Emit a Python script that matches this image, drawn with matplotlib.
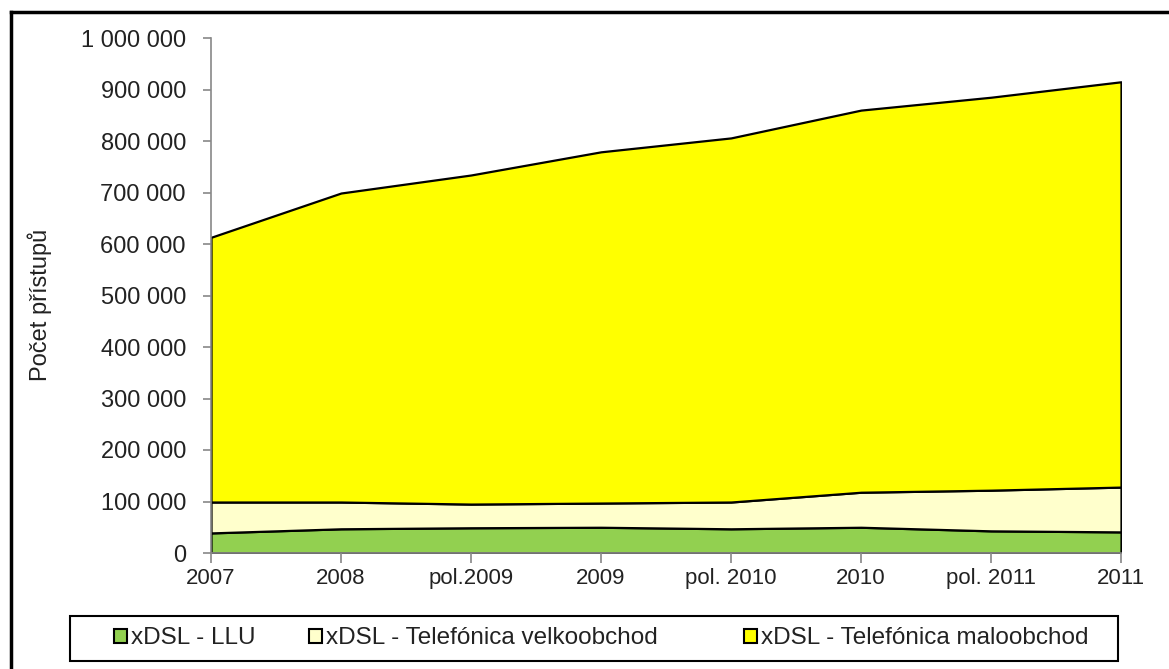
import matplotlib
matplotlib.use("Agg")
import matplotlib.pyplot as plt
from matplotlib.patches import Patch, Rectangle
from matplotlib.ticker import FuncFormatter, MultipleLocator
from matplotlib.lines import Line2D

plt.rcParams['font.family'] = ['Liberation Sans', 'DejaVu Sans']

periods = ["2007", "2008", "pol.2009", "2009", "pol. 2010", "2010", "pol. 2011", "2011"]
llu = [39000, 47000, 49000, 50000, 47000, 50000, 43000, 41000]
velkoobchod = [60000, 52000, 46000, 47000, 52000, 68000, 79000, 87000]
maloobchod = [514000, 600000, 639000, 682000, 707000, 742000, 763000, 787000]
series_labels = ["xDSL - LLU", "xDSL - Telefónica velkoobchod", "xDSL - Telefónica maloobchod"]
colors = ["#92D050", "#FFFFCC", "#FFFF00"]
y_label = "Počet přístupů"

W, H = 1169, 669
fig = plt.figure(figsize=(W / 100, H / 100), dpi=100)
ax = fig.add_axes([211 / W, 1 - 553 / H, (1121 - 211) / W, (553 - 38) / H])

x = list(range(len(periods)))
ax.stackplot(x, llu, velkoobchod, maloobchod, colors=colors,
             edgecolor="black", linewidth=1.6)

ax.set_xlim(0, len(periods) - 1)
ax.set_ylim(0, 1000000)
ax.set_xticks(x)
ax.set_xticklabels(periods, fontsize=16, color="#222222")
ax.yaxis.set_major_locator(MultipleLocator(100000))
ax.yaxis.set_major_formatter(FuncFormatter(lambda v, p: f"{int(v):,}".replace(",", " ")))
ax.tick_params(axis="y", labelsize=17, colors="#888888", labelcolor="#222222",
               length=6, width=1.2, direction="out", pad=12)
ax.tick_params(axis="x", colors="#888888", labelcolor="#222222",
               length=7, width=1.2, direction="out", pad=4)
for s in ["top", "right"]:
    ax.spines[s].set_visible(False)
for s in ["left", "bottom"]:
    ax.spines[s].set_color("#888888")
    ax.spines[s].set_linewidth(1.2)

fig.text(40 / W, 1 - 305 / H, y_label, rotation=90, fontsize=17,
         ha="center", va="center", color="#222222")

# legend box
fig.add_artist(Rectangle((70 / W, 1 - 661 / H), (1118 - 70) / W, 45 / H,
                         transform=fig.transFigure, facecolor="white",
                         edgecolor="black", linewidth=1.5))
legend_x = [114, 309, 744]
for xp, lab, col in zip(legend_x, series_labels, colors):
    lg = fig.legend([Patch(facecolor=col, edgecolor="black", linewidth=1.5)], [lab],
                    loc="center left", bbox_to_anchor=(xp / W, 1 - 638.5 / H),
                    frameon=False, fontsize=17.5, handlelength=0.55, handleheight=0.55,
                    handletextpad=0.15, borderpad=0, borderaxespad=0)
    for t in lg.get_texts():
        t.set_color("#222222")

# outer chart frame
fig.add_artist(Line2D([11 / W, 11 / W], [0, 1 - 12 / H], color="black", lw=2.5, transform=fig.transFigure))
fig.add_artist(Line2D([11 / W, 1], [1 - 12 / H, 1 - 12 / H], color="black", lw=2.5, transform=fig.transFigure))

fig.savefig("out.png", dpi=100)
